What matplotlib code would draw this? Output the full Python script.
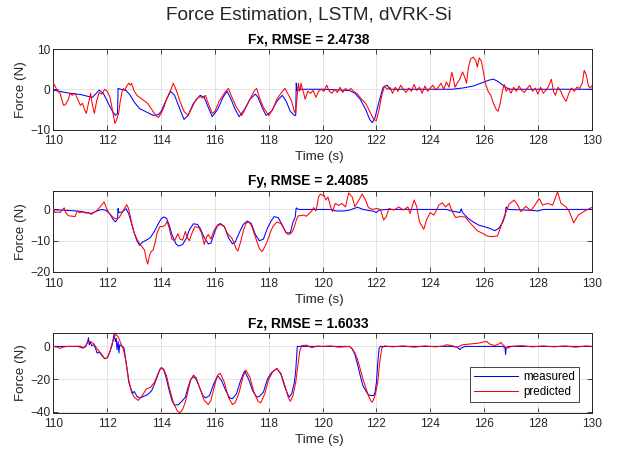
import matplotlib
matplotlib.use("Agg")
import matplotlib.pyplot as plt

plt.rcParams['font.family'] = ['Liberation Sans', 'DejaVu Sans']

# ---------------- data ----------------
FX_MEAS = [(110.0,-0.2),(110.3,-0.6),(110.6,-1.0),(111.0,-1.3),(111.3,-1.8),(111.45,-2.0),(111.7,-0.2),
 (111.85,-1.0),(112.0,-3.0),(112.15,-5.0),(112.3,-6.5),(112.38,-6.0),(112.4,0.2),(112.5,0.0),(112.7,-0.3),
 (112.85,-1.5),(113.0,-3.2),(113.2,-4.8),(113.5,-5.8),(113.7,-6.5),(113.9,-6.3),(114.0,-5.5),(114.2,-2.5),
 (114.35,-0.5),(114.5,-1.5),(114.7,-5.0),(114.85,-7.5),(115.0,-6.5),(115.2,-3.5),(115.45,-1.5),(115.6,-2.0),
 (115.75,-4.5),(115.9,-6.8),(116.1,-5.0),(116.3,-2.0),(116.45,-0.5),(116.6,-2.5),(116.75,-5.0),(116.9,-6.8),
 (117.1,-5.0),(117.3,-2.5),(117.5,-1.2),(117.6,-2.0),(117.75,-4.5),(117.9,-6.5),(118.1,-5.5),(118.3,-3.0),
 (118.5,-1.5),(118.65,-3.0),(118.8,-5.5),(118.95,-6.5),(119.0,-6.5),(119.02,1.5),(119.05,-0.3),(119.2,0.0),
 (120.0,0.0),(121.0,-0.3),(121.2,-1.0),(121.4,-2.5),(121.6,-5.0),(121.75,-7.5),(121.85,-8.3),(121.95,-7.0),
 (122.1,-3.0),(122.25,0.5),(122.4,1.0),(122.5,0.0),(123.0,0.0),(124.0,0.0),(124.8,0.0),(125.2,0.3),
 (125.6,0.8),(126.0,1.8),(126.2,2.3),(126.35,2.5),(126.5,2.0),(126.7,1.0),(126.85,0.3),(127.0,0.0),
 (128.0,0.0),(129.0,0.0),(130.0,0.0)]

FX_PRED = [(110.0,1.5),(110.08,0.5),(110.15,-0.5),(110.25,-1.0),(110.3,-2.5),(110.38,-4.0),(110.45,-3.8),
 (110.55,-2.5),(110.62,-1.0),(110.7,-1.5),(110.8,-1.0),(110.9,-2.5),(111.0,-4.0),(111.08,-3.5),(111.15,-5.0),
 (111.22,-6.0),(111.3,-3.5),(111.38,-1.0),(111.45,-4.0),(111.52,-6.0),(111.6,-3.0),(111.7,-0.8),(111.8,-1.2),
 (111.9,0.0),(112.0,-0.5),(112.1,-2.0),(112.2,-5.5),(112.28,-8.5),(112.35,-7.5),(112.42,-6.0),(112.48,-3.0),
 (112.55,-0.5),(112.6,0.2),(112.65,-0.3),(112.72,0.8),(112.8,1.5),(112.85,1.0),(112.9,1.5),(113.0,-0.5),
 (113.1,-1.5),(113.2,-2.0),(113.3,-2.5),(113.4,-3.0),(113.5,-3.5),(113.6,-4.5),(113.7,-5.5),(113.8,-6.5),
 (113.9,-7.0),(114.0,-6.0),(114.1,-4.5),(114.2,-2.5),(114.3,-1.0),(114.38,0.2),(114.45,1.5),(114.55,0.0),
 (114.7,-3.0),(114.85,-5.5),(115.0,-6.5),(115.15,-4.5),(115.3,-2.5),(115.45,-1.8),(115.55,-2.2),(115.65,-1.5),
 (115.75,-3.5),(115.9,-6.0),(116.0,-5.5),(116.15,-3.0),(116.3,-1.5),(116.4,-0.5),(116.5,0.2),(116.6,-1.5),
 (116.8,-4.5),(117.0,-6.5),(117.15,-4.5),(117.3,-2.5),(117.45,-0.5),(117.55,0.2),(117.65,-2.0),(117.8,-4.5),
 (118.0,-6.5),(118.15,-5.0),(118.3,-2.5),(118.45,-1.0),(118.6,0.2),(118.7,-1.0),(118.85,-3.0),(118.95,-5.5),
 (119.0,-6.0),(119.05,-2.0),(119.1,1.5),(119.15,-0.5),(119.2,1.5),(119.25,0.0),(119.3,-1.0),(119.35,-2.5),
 (119.45,-0.5),(119.55,-1.0),(119.65,-0.3),(119.75,-2.0),(119.85,-0.5),(119.95,0.0),(120.05,-0.5),(120.15,1.0),
 (120.25,-0.5),(120.35,-1.0),(120.45,0.0),(120.55,-0.8),(120.65,0.5),(120.75,-0.8),(120.85,0.2),(120.95,-0.3),
 (121.05,0.2),(121.15,-0.5),(121.3,-1.2),(121.45,-2.5),(121.6,-3.5),(121.75,-5.5),(121.9,-7.5),(122.0,-7.8),
 (122.1,-5.0),(122.2,-1.5),(122.3,0.8),(122.4,0.0),(122.5,0.5),(122.6,-1.0),(122.7,0.5),(122.8,-0.5),
 (122.9,1.0),(123.0,0.0),(123.1,-0.8),(123.2,0.3),(123.3,-0.5),(123.4,1.2),(123.5,-0.3),(123.6,0.5),
 (123.7,-1.0),(123.8,0.8),(123.9,-0.5),(124.0,0.3),(124.1,1.0),(124.2,-0.2),(124.3,0.5),(124.4,1.5),
 (124.5,0.0),(124.6,1.8),(124.7,0.5),(124.8,4.2),(124.85,3.0),(124.92,0.5),(125.0,1.5),(125.1,2.5),
 (125.2,4.3),(125.28,3.0),(125.35,1.5),(125.42,5.5),(125.5,7.5),(125.6,8.0),(125.7,7.0),(125.75,5.5),
 (125.82,7.8),(125.9,7.0),(125.98,4.0),(126.05,1.5),(126.15,-0.5),(126.25,-1.5),(126.35,-3.5),(126.45,-5.0),
 (126.52,-5.5),(126.6,-3.5),(126.68,-0.5),(126.75,1.2),(126.82,-0.5),(126.9,0.3),(127.0,-1.0),(127.1,0.5),
 (127.2,-0.5),(127.3,0.8),(127.4,-0.3),(127.5,-0.8),(127.6,0.2),(127.7,1.0),(127.8,-0.5),(127.9,0.3),
 (128.0,-1.2),(128.1,0.5),(128.2,-1.0),(128.3,-0.2),(128.4,0.8),(128.5,2.5),(128.58,-0.5),(128.65,-1.5),
 (128.75,0.5),(128.85,-0.5),(128.95,-2.0),(129.05,-3.0),(129.15,-1.0),(129.25,0.3),(129.35,-0.5),(129.45,0.5),
 (129.55,0.2),(129.65,1.5),(129.72,4.7),(129.8,3.5),(129.88,0.8),(129.95,0.3),(130.0,0.8)]

FY_MEAS = [(110.0,-0.1),(110.5,-0.3),(111.0,-0.6),(111.4,-1.3),(111.6,-0.5),(111.8,0.0),(111.95,-0.3),
 (112.1,-1.5),(112.2,-3.0),(112.3,-4.0),(112.38,-3.0),(112.4,0.3),(112.43,-1.0),(112.55,-0.8),(112.7,0.2),
 (112.8,-1.5),(112.9,-4.5),(113.0,-7.5),(113.1,-10.0),(113.2,-11.5),(113.3,-10.5),(113.45,-9.8),(113.6,-9.0),
 (113.75,-7.0),(113.9,-4.5),(114.0,-3.0),(114.1,-2.4),(114.2,-2.8),(114.3,-5.0),(114.4,-8.0),(114.55,-11.0),
 (114.65,-11.7),(114.8,-11.2),(114.95,-9.0),(115.05,-6.5),(115.2,-4.6),(115.35,-4.8),(115.45,-6.0),(115.6,-9.0),
 (115.75,-11.0),(115.85,-10.8),(116.0,-7.0),(116.1,-5.0),(116.2,-4.5),(116.35,-5.5),(116.5,-9.0),(116.65,-11.0),
 (116.75,-10.5),(116.9,-7.5),(117.05,-4.8),(117.2,-3.7),(117.35,-4.5),(117.5,-8.0),(117.65,-10.0),(117.8,-9.5),
 (117.95,-6.0),(118.1,-3.5),(118.2,-2.3),(118.35,-2.6),(118.5,-5.0),(118.65,-7.5),(118.8,-7.5),(118.9,-4.0),
 (118.98,-2.5),(119.02,0.5),(119.1,0.0),(120.0,0.0),(120.3,0.0),(120.5,-0.5),(120.8,-0.5),(121.0,-0.2),
 (121.3,0.7),(121.5,0.0),(121.7,-0.3),(121.9,-0.6),(122.0,-1.0),(122.1,-0.2),(122.4,0.0),(124.0,0.0),
 (124.6,0.0),(124.8,-0.5),(125.1,-1.0),(125.15,0.2),(125.2,-1.0),(125.4,-2.8),(125.6,-4.0),(125.8,-5.0),
 (126.0,-5.5),(126.2,-6.0),(126.4,-6.8),(126.55,-6.0),(126.7,-4.0),(126.78,-2.0),(126.82,0.8),(126.9,0.0),
 (127.8,-0.3),(128.0,-0.5),(128.2,0.0),(130.0,0.0)]

FY_PRED = [(110.0,0.2),(110.05,-1.0),(110.15,-0.8),(110.25,-1.0),(110.33,0.0),(110.4,0.5),(110.45,-1.0),
 (110.55,-2.0),(110.7,-2.2),(110.8,-2.3),(110.88,-0.5),(110.95,-1.0),(111.1,-0.8),(111.2,-1.2),(111.3,-1.0),
 (111.4,-1.6),(111.5,-1.0),(111.6,-0.5),(111.7,0.5),(111.8,1.5),(111.88,2.4),(111.95,0.8),(112.05,-1.0),
 (112.15,-2.0),(112.25,-2.8),(112.35,-3.0),(112.45,-2.5),(112.55,-1.0),(112.65,0.5),(112.72,1.5),(112.78,0.5),
 (112.85,-2.0),(112.92,-5.0),(113.0,-7.5),(113.1,-9.5),(113.2,-11.0),(113.3,-12.0),(113.38,-13.0),(113.45,-16.0),
 (113.5,-17.5),(113.56,-15.0),(113.62,-13.5),(113.7,-13.0),(113.78,-10.5),(113.85,-7.5),(113.95,-5.5),
 (114.05,-5.5),(114.15,-5.0),(114.22,-3.8),(114.3,-6.0),(114.4,-9.5),(114.5,-10.0),(114.58,-8.5),(114.62,-7.8),
 (114.7,-9.5),(114.8,-9.8),(114.9,-7.0),(114.97,-9.0),(115.05,-10.0),(115.15,-7.5),(115.25,-5.5),(115.4,-5.8),
 (115.5,-7.5),(115.6,-11.2),(115.68,-9.0),(115.75,-8.0),(115.85,-9.5),(115.95,-7.0),(116.05,-5.5),(116.2,-4.8),
 (116.35,-5.5),(116.45,-7.5),(116.55,-8.5),(116.62,-9.0),(116.7,-10.5),(116.78,-12.5),(116.85,-13.3),
 (116.95,-10.5),(117.05,-7.0),(117.15,-4.5),(117.25,-4.0),(117.35,-5.0),(117.45,-7.5),(117.55,-10.0),
 (117.65,-12.5),(117.75,-13.5),(117.85,-12.0),(117.95,-10.0),(118.05,-7.5),(118.15,-5.5),(118.3,-4.0),
 (118.45,-4.5),(118.55,-6.0),(118.65,-7.5),(118.72,-8.0),(118.8,-7.8),(118.88,-7.0),(118.95,-5.5),(119.02,-3.5),
 (119.1,-2.0),(119.2,-2.0),(119.3,-1.8),(119.4,-2.2),(119.5,-1.3),(119.6,-0.5),(119.67,0.6),(119.75,-0.5),
 (119.8,1.5),(119.85,4.0),(119.92,4.9),(120.0,4.5),(120.05,4.6),(120.12,3.0),(120.2,4.0),(120.3,0.8),
 (120.37,-0.7),(120.47,1.9),(120.6,1.3),(120.72,1.9),(120.85,0.8),(120.97,5.3),(121.1,4.0),(121.2,0.9),
 (121.35,3.0),(121.47,4.9),(121.6,3.0),(121.7,0.6),(121.85,0.0),(122.0,0.3),(122.15,0.0),(122.27,-3.4),
 (122.37,-2.3),(122.46,0.3),(122.65,-0.2),(122.83,0.8),(123.0,-0.2),(123.17,0.8),(123.25,-1.3),(123.4,3.0),
 (123.5,0.8),(123.6,-3.9),(123.76,-6.4),(123.86,-3.4),(124.0,-1.0),(124.14,-1.8),(124.32,1.4),(124.45,2.1),
 (124.57,0.8),(124.7,1.9),(124.82,-0.7),(124.94,-2.6),(125.1,-2.3),(125.3,-2.4),(125.5,-4.5),(125.75,-6.8),
 (126.0,-7.9),(126.12,-8.5),(126.3,-8.7),(126.5,-8.5),(126.62,-5.5),(126.75,-2.3),(126.93,1.7),(127.12,3.0),
 (127.25,1.4),(127.37,-0.7),(127.55,1.0),(127.74,-0.4),(127.86,1.0),(128.05,3.5),(128.17,1.4),(128.36,1.9),
 (128.55,1.4),(128.73,5.6),(128.86,1.9),(129.05,0.8),(129.17,-0.7),(129.33,-4.3),(129.5,-1.8),(129.7,-0.7),
 (129.85,0.0),(130.0,0.6)]

FZ_MEAS = [(110.0,0.0),(110.9,0.0),(111.0,-0.5),(111.1,-1.0),(111.2,0.0),(111.27,3.0),(111.3,5.3),(111.33,1.0),
 (111.37,2.5),(111.42,0.5),(111.5,1.0),(111.58,-2.0),(111.62,-4.0),(111.7,-3.5),(111.8,-5.5),(111.9,-7.5),
 (112.0,-7.0),(112.1,-3.0),(112.18,1.0),(112.25,7.3),(112.3,3.0),(112.33,5.0),(112.36,-2.0),(112.4,3.0),
 (112.43,-4.0),(112.46,1.0),(112.55,0.0),(112.62,-1.0),(112.7,-10.0),(112.8,-22.0),(112.9,-27.0),(112.95,-28.5),
 (113.0,-27.5),(113.1,-30.5),(113.2,-31.5),(113.35,-30.5),(113.5,-29.5),(113.65,-27.0),(113.8,-21.0),
 (113.95,-14.0),(114.02,-13.0),(114.1,-14.5),(114.2,-20.0),(114.3,-27.0),(114.4,-33.0),(114.5,-36.0),
 (114.65,-35.5),(114.8,-33.0),(114.9,-31.0),(115.0,-25.0),(115.1,-20.0),(115.2,-18.5),(115.3,-20.0),
 (115.45,-26.0),(115.55,-30.0),(115.65,-31.5),(115.8,-30.0),(115.95,-23.0),(116.1,-18.0),(116.25,-21.0),
 (116.4,-27.0),(116.55,-31.5),(116.65,-32.0),(116.8,-29.0),(116.95,-21.0),(117.1,-15.0),(117.25,-20.0),
 (117.4,-27.0),(117.55,-31.0),(117.65,-30.5),(117.8,-28.0),(117.95,-20.0),(118.1,-16.0),(118.3,-13.5),
 (118.45,-17.0),(118.6,-25.0),(118.75,-31.0),(118.85,-29.0),(118.95,-22.0),(119.0,-15.0),(119.04,-5.0),
 (119.06,0.0),(120.0,0.0),(121.0,0.0),(121.1,-1.5),(121.2,-5.0),(121.3,-11.0),(121.4,-18.0),(121.5,-24.0),
 (121.6,-27.0),(121.7,-29.5),(121.8,-30.0),(121.9,-30.0),(121.95,-28.0),(122.0,-22.0),(122.05,-10.0),
 (122.1,-1.0),(122.15,0.0),(123.0,0.0),(124.8,0.0),(125.0,-0.5),(125.1,-2.0),(125.15,-1.0),(125.3,0.0),
 (126.7,0.0),(126.78,-1.0),(126.8,-5.0),(126.82,-1.0),(126.9,0.0),(128.0,0.0),(130.0,0.0)]

FZ_PRED = [(110.0,0.0),(110.15,-0.5),(110.25,-1.2),(110.35,-0.5),(110.5,0.0),(110.8,0.0),(111.0,0.2),
 (111.1,-0.8),(111.2,0.5),(111.3,3.0),(111.4,2.8),(111.5,1.5),(111.6,-1.0),(111.7,-3.0),(111.8,-5.0),
 (111.9,-7.5),(112.0,-7.0),(112.1,-3.0),(112.2,3.0),(112.3,7.5),(112.4,6.0),(112.5,2.0),(112.6,-2.0),
 (112.7,-10.0),(112.8,-21.0),(112.9,-28.0),(113.0,-31.0),(113.15,-33.0),(113.3,-30.0),(113.45,-26.0),
 (113.6,-25.0),(113.75,-22.0),(113.9,-16.0),(114.0,-13.0),(114.1,-14.0),(114.2,-18.0),(114.3,-25.0),
 (114.45,-34.0),(114.6,-39.5),(114.7,-40.5),(114.8,-38.5),(114.9,-34.0),(115.0,-27.0),(115.1,-20.5),
 (115.2,-17.5),(115.3,-19.0),(115.45,-26.0),(115.6,-33.0),(115.75,-35.5),(115.85,-33.0),(116.0,-23.0),
 (116.1,-17.5),(116.2,-16.5),(116.35,-22.0),(116.5,-31.0),(116.65,-35.5),(116.75,-34.5),(116.9,-28.0),
 (117.05,-18.0),(117.15,-14.5),(117.3,-19.0),(117.45,-28.0),(117.6,-33.5),(117.7,-34.5),(117.85,-29.0),
 (118.0,-20.0),(118.15,-15.5),(118.3,-13.5),(118.45,-16.5),(118.6,-24.0),(118.72,-31.0),(118.8,-33.5),
 (118.9,-30.0),(119.0,-22.0),(119.08,-12.0),(119.15,-3.0),(119.22,0.5),(119.4,0.8),(119.6,-0.8),(119.8,0.2),
 (120.0,0.0),(120.3,0.3),(120.6,-0.5),(121.0,0.0),(121.1,-1.5),(121.2,-4.0),(121.3,-8.0),(121.4,-14.0),
 (121.5,-20.0),(121.6,-25.0),(121.7,-30.0),(121.8,-33.5),(121.85,-34.0),(121.95,-30.0),(122.05,-22.0),
 (122.12,-10.0),(122.2,-1.0),(122.3,0.3),(122.6,-0.3),(123.0,0.3),(123.4,-0.5),(123.8,0.3),(124.2,-0.3),
 (124.5,0.3),(124.6,1.0),(124.8,0.5),(125.0,-0.5),(125.2,1.0),(125.5,1.5),(125.8,2.0),(126.0,2.8),(126.1,3.0),
 (126.2,1.5),(126.4,0.5),(126.55,1.5),(126.62,2.5),(126.7,1.0),(126.8,-0.5),(126.9,-1.0),(127.0,0.0),
 (127.4,0.5),(127.8,-0.3),(128.2,0.3),(128.6,-0.3),(129.0,0.3),(129.4,-0.5),(129.8,0.3),(130.0,0.0)]

TITLES = ["Fx, RMSE = 2.4738", "Fy, RMSE = 2.4085", "Fz, RMSE = 1.6033"]
SUPTITLE = "Force Estimation, LSTM, dVRK-Si"
YLIMS = [(-10, 10), (-20, 6), (-40.5, 8)]
YTICKS = [[-10, 0, 10], [-20, -10, 0], [-40, -20, 0]]
XTICKS = [110, 112, 114, 116, 118, 120, 122, 124, 126, 128, 130]
LEGEND_LABELS = ["measured", "predicted"]

# ---------------- figure ----------------
DARK = "#262626"
fig = plt.figure(figsize=(6.17, 4.5), dpi=100)
fig.text(0.5, 1 - 19.5 / 450, SUPTITLE, ha="center", va="baseline", fontsize=13.7, color=DARK)

positions = [
    (0.0867, 0.7122, 0.8723, 0.1789),
    (0.0867, 0.3956, 0.8723, 0.1807),
    (0.0867, 0.0829, 0.8723, 0.1764),
]
series = [(FX_MEAS, FX_PRED), (FY_MEAS, FY_PRED), (FZ_MEAS, FZ_PRED)]

for i, (pos, (meas, pred)) in enumerate(zip(positions, series)):
    ax = fig.add_axes(pos)
    tm, vm = zip(*meas)
    tp, vp = zip(*pred)
    lm, = ax.plot(tm, vm, color=(0, 0, 1), lw=0.75, zorder=3)
    lp, = ax.plot(tp, vp, color=(1, 0, 0), lw=0.75, zorder=4)
    ax.set_xlim(110, 130)
    ax.set_ylim(*YLIMS[i])
    ax.set_xticks(XTICKS)
    ax.set_yticks(YTICKS[i])
    ax.grid(True, color="#dedede", lw=0.6)
    ax.set_axisbelow(True)
    ax.tick_params(direction="in", top=True, right=True, length=3.5, width=0.6,
                   labelsize=8.6, colors=DARK)
    ax.tick_params(axis="x", pad=4)
    ax.tick_params(axis="y", pad=2.5)
    for sp in ax.spines.values():
        sp.set_color(DARK)
        sp.set_linewidth(0.7)
    ax.set_title(TITLES[i], fontsize=9.9, fontweight="bold", color="black", pad=4, x=0.4734)
    ax.set_xlabel("Time (s)", fontsize=9.6, color=DARK, labelpad=2)
    ax.xaxis.set_label_coords(0.494, -0.27)
    ax.set_ylabel("Force (N)", fontsize=9.6, color=DARK, labelpad=2)
    if i == 2:
        leg = ax.legend([lm, lp], LEGEND_LABELS, loc="lower right",
                        bbox_to_anchor=(0.976, 0.135), borderaxespad=0,
                        fontsize=8.4, handlelength=3.8, handletextpad=0.4,
                        labelspacing=0.25, borderpad=0.35, fancybox=False,
                        framealpha=1, edgecolor=DARK)
        leg.get_frame().set_linewidth(0.6)

fig.savefig("out.png", dpi=100)
